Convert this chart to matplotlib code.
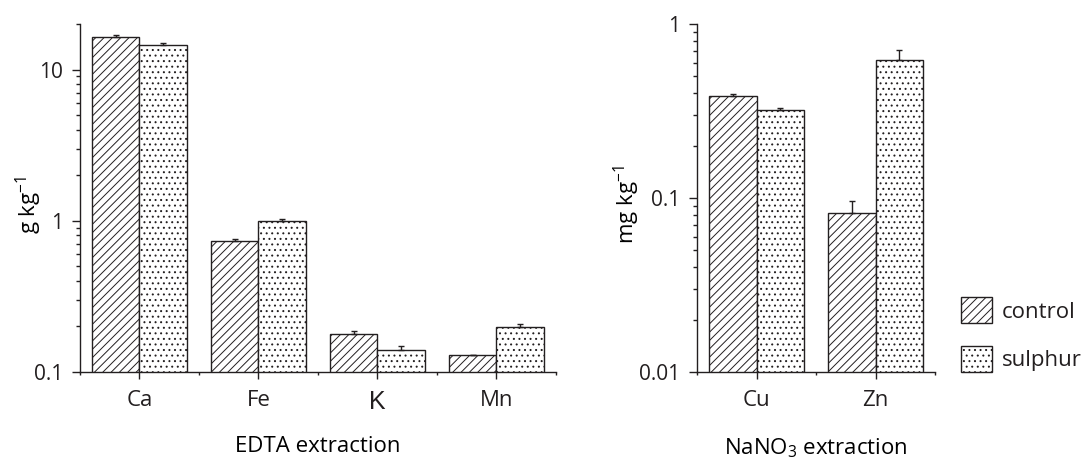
import numpy as np
import matplotlib
matplotlib.use("Agg")
import matplotlib.pyplot as plt
from matplotlib.patches import Patch
from matplotlib.ticker import FixedLocator, FuncFormatter, LogLocator, NullFormatter

# ---------------------------------------------------------------------------
# Data
# ---------------------------------------------------------------------------
edta_elements = ["Ca", "Fe", "K", "Mn"]
edta_control = [16.5, 0.735, 0.179, 0.129]
edta_control_err = [0.5, 0.02, 0.009, 0.0]
edta_sulphur = [14.5, 1.0, 0.139, 0.199]
edta_sulphur_err = [0.5, 0.03, 0.010, 0.009]

nano3_elements = ["Cu", "Zn"]
nano3_control = [0.384, 0.082]
nano3_control_err = [0.013, 0.014]
nano3_sulphur = [0.319, 0.618]
nano3_sulphur_err = [0.010, 0.091]

INK = "#231f20"
BAR_W = 0.4
HATCH_CTRL = "////"
HATCH_SULF = "..."

plt.rcParams["font.family"] = ["Open Sans", "DejaVu Sans"]
plt.rcParams["mathtext.fontset"] = "custom"
plt.rcParams["mathtext.rm"] = "Open Sans"
plt.rcParams["mathtext.it"] = "Open Sans:italic"
plt.rcParams["mathtext.bf"] = "Open Sans:bold"
plt.rcParams["hatch.linewidth"] = 0.7
plt.rcParams["text.color"] = INK


def style_axes(ax, n, ylim):
    ax.set_yscale("log")
    ax.set_ylim(*ylim)
    ax.set_xlim(-0.5, n - 0.5)
    for side in ("top", "right"):
        ax.spines[side].set_visible(False)
    for side in ("left", "bottom"):
        ax.spines[side].set_color(INK)
        ax.spines[side].set_linewidth(1.0)
        ax.spines[side].set_zorder(5)

    ax.yaxis.set_major_locator(LogLocator(base=10))
    ax.yaxis.set_minor_locator(LogLocator(base=10, subs=np.arange(2, 10)))
    ax.yaxis.set_major_formatter(FuncFormatter(lambda v, _: f"{v:g}"))
    ax.yaxis.set_minor_formatter(NullFormatter())

    ax.xaxis.set_major_locator(FixedLocator(np.arange(n)))
    ax.xaxis.set_minor_locator(FixedLocator(np.arange(n + 1) - 0.5))

    ax.tick_params(axis="y", which="major", length=5.5, width=1, color=INK,
                   labelsize=15, pad=6.5, labelcolor=INK)
    ax.tick_params(axis="y", which="minor", length=3, width=1, color=INK)
    ax.tick_params(axis="x", which="major", length=5, width=1, color=INK,
                   labelsize=16, pad=8, labelcolor=INK)
    ax.tick_params(axis="x", which="minor", length=2.5, width=1, color=INK)


def draw_bars(ax, names, ctrl, ctrl_err, sulf, sulf_err):
    x = np.arange(len(names))
    ax.bar(x - BAR_W / 2, ctrl, BAR_W, facecolor="white", edgecolor=INK,
           linewidth=1.0, hatch=HATCH_CTRL, zorder=2)
    ax.bar(x + BAR_W / 2, sulf, BAR_W, facecolor="white", edgecolor=INK,
           linewidth=1.0, hatch=HATCH_SULF, zorder=2)
    ax.errorbar(x - BAR_W / 2, ctrl, yerr=[np.zeros(len(x)), ctrl_err],
                fmt="none", ecolor=INK, elinewidth=1, capsize=2.5, capthick=1, zorder=3)
    ax.errorbar(x + BAR_W / 2, sulf, yerr=[np.zeros(len(x)), sulf_err],
                fmt="none", ecolor=INK, elinewidth=1, capsize=2.5, capthick=1, zorder=3)
    ax.set_xticks(x)
    ax.set_xticklabels(names)


def main():
    fig = plt.figure(figsize=(10.85, 4.58), dpi=100)
    ax1 = fig.add_axes([0.0737, 0.1878, 0.4387, 0.7598])
    ax2 = fig.add_axes([0.6424, 0.1878, 0.2194, 0.7598])

    style_axes(ax1, len(edta_elements), (0.1, 20))
    style_axes(ax2, len(nano3_elements), (0.01, 1))

    draw_bars(ax1, edta_elements, edta_control, edta_control_err,
              edta_sulphur, edta_sulphur_err)
    draw_bars(ax2, nano3_elements, nano3_control, nano3_control_err,
              nano3_sulphur, nano3_sulphur_err)

    # the "K" label in the original is set in a different, heavier face
    k_label = ax1.get_xticklabels()[2]
    k_label.set_fontfamily("Liberation Sans")
    k_label.set_fontsize(18)

    ax1.set_ylabel("g kg$^{-1}$", fontsize=16)
    ax1.yaxis.set_label_coords(-0.076, 0.48)
    ax1.set_xlabel("EDTA extraction", fontsize=16)
    ax1.xaxis.set_label_coords(0.5, -0.185)

    ax2.set_ylabel("mg kg$^{-1}$", fontsize=16)
    ax2.yaxis.set_label_coords(-0.232, 0.48)
    ax2.set_xlabel("NaNO$_3$ extraction", fontsize=16)
    ax2.xaxis.set_label_coords(0.5, -0.185)

    handles = [
        Patch(facecolor="white", edgecolor=INK, linewidth=1.0, hatch=HATCH_CTRL, label="control"),
        Patch(facecolor="white", edgecolor=INK, linewidth=1.0, hatch=HATCH_SULF, label="sulphur"),
    ]
    fig.legend(handles=handles, loc="lower left", bbox_to_anchor=(0.8857, 0.1878),
               frameon=False, fontsize=16, handlelength=1.4, handleheight=1.45,
               labelspacing=1.0, handletextpad=0.45, borderpad=0, borderaxespad=0)

    fig.savefig("out.png", dpi=100, facecolor="white")


if __name__ == "__main__":
    main()
